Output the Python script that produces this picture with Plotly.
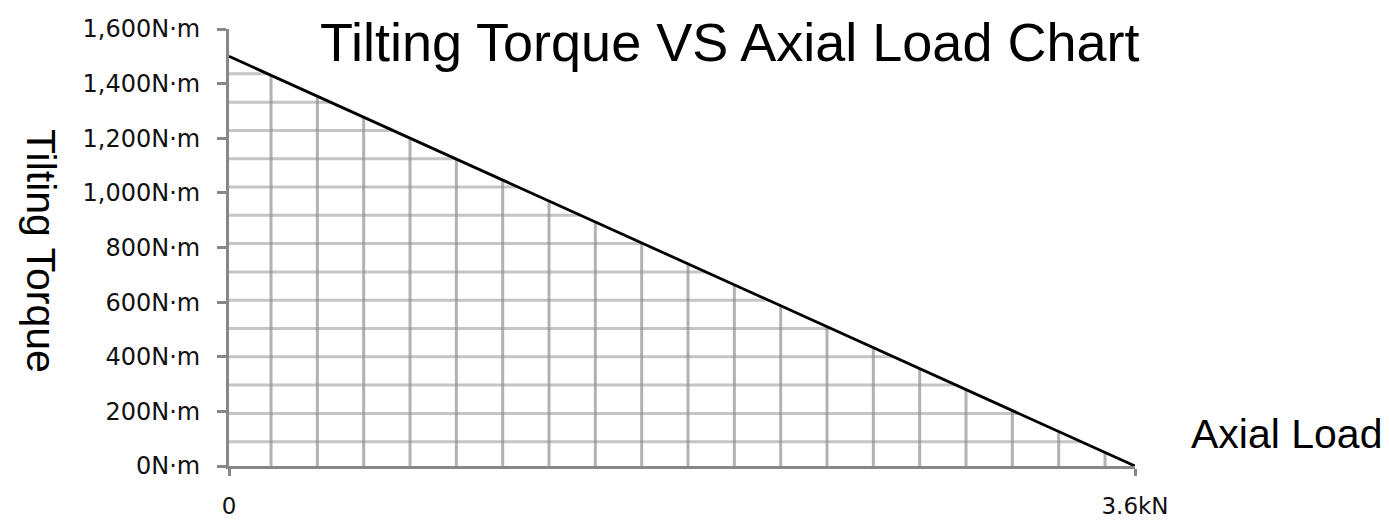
import plotly.graph_objects as go

# ---- data ----
axial_load_kN = [0.0, 3.6]
tilting_torque_Nm = [1500, 0]

y_tick_values = [0, 200, 400, 600, 800, 1000, 1200, 1400, 1600]
y_tick_labels = ["0N·m", "200N·m", "400N·m", "600N·m", "800N·m",
                 "1,000N·m", "1,200N·m", "1,400N·m", "1,600N·m"]
x_tick_values = [0, 3.6]
x_tick_labels = ["0", "3.6kN"]

# ---- hatch (grid) inside the area under the line: style constants ----
V_START, V_STEP = 0.167, 0.1841     # kN
H_START, H_STEP = 89.0, 103.6       # N·m

x0, x1 = axial_load_kN
y0, y1 = tilting_torque_Nm


def line_y(x):
    return y0 + (y1 - y0) * (x - x0) / (x1 - x0)


def line_x(y):
    return x0 + (x1 - x0) * (y - y0) / (y1 - y0)


vx, vy = [], []
x = V_START
while x < x1:
    vx += [x, x, None]
    vy += [0, line_y(x), None]
    x += V_STEP

hx, hy = [], []
y = H_START
while y < y0:
    hx += [0, line_x(y), None]
    hy += [y, y, None]
    y += H_STEP

fig = go.Figure()
fig.add_trace(go.Scatter(x=vx, y=vy, mode="lines", hoverinfo="skip",
                         line=dict(color="rgba(130,130,130,0.62)", width=3),
                         showlegend=False))
fig.add_trace(go.Scatter(x=hx, y=hy, mode="lines", hoverinfo="skip",
                         line=dict(color="rgba(140,140,140,0.5)", width=3),
                         showlegend=False))
fig.add_trace(go.Scatter(x=axial_load_kN, y=tilting_torque_Nm, mode="lines",
                         line=dict(color="black", width=2.8),
                         showlegend=False))

axis_grey = "#878787"
tick_font = dict(family="DejaVu Sans", size=24, color="#111111")
x_tick_font = dict(family="DejaVu Sans", size=23, color="#111111")

L, R, T, B = 229, 1135, 29, 466
PW, PH = R - L, B - T


def px(xp):
    return (xp - L) / PW


def py(yp):
    return (B - yp) / PH


fig.update_layout(
    width=1389, height=521,
    margin=dict(l=L, r=1389 - R, t=T, b=521 - B, autoexpand=False),
    paper_bgcolor="white", plot_bgcolor="white",
    xaxis=dict(range=[0, 3.6], tickvals=x_tick_values, ticktext=x_tick_labels,
               showgrid=False, zeroline=False, showline=True, automargin=False,
               linecolor=axis_grey, linewidth=3,
               ticks="outside", ticklen=7, tickwidth=3, tickcolor=axis_grey,
               tickfont=x_tick_font, ticklabelstandoff=10),
    yaxis=dict(range=[0, 1600], tickvals=y_tick_values, ticktext=y_tick_labels,
               showgrid=False, zeroline=False, showline=True, automargin=False,
               linecolor=axis_grey, linewidth=3,
               ticks="outside", ticklen=9, tickwidth=3, tickcolor=axis_grey,
               tickfont=tick_font, ticklabelstandoff=12),
    annotations=[
        dict(text="Tilting Torque VS Axial Load Chart", xref="paper", yref="paper",
             x=px(729), y=py(42), xanchor="center", yanchor="middle",
             showarrow=False, font=dict(family="Liberation Sans, Arial", size=54, color="black")),
        dict(text="Tilting Torque", xref="paper", yref="paper",
             x=px(41), y=py(251), xanchor="center", yanchor="middle",
             textangle=90, showarrow=False,
             font=dict(family="Liberation Sans, Arial", size=41, color="black")),
        dict(text="Axial Load", xref="paper", yref="paper",
             x=px(1286), y=py(434), xanchor="center", yanchor="middle",
             showarrow=False,
             font=dict(family="Liberation Sans, Arial", size=41, color="black")),
    ],
)

fig.write_html("out.html", config={"displayModeBar": False},
               post_script="document.body.style.margin='0';document.body.style.padding='0';")
